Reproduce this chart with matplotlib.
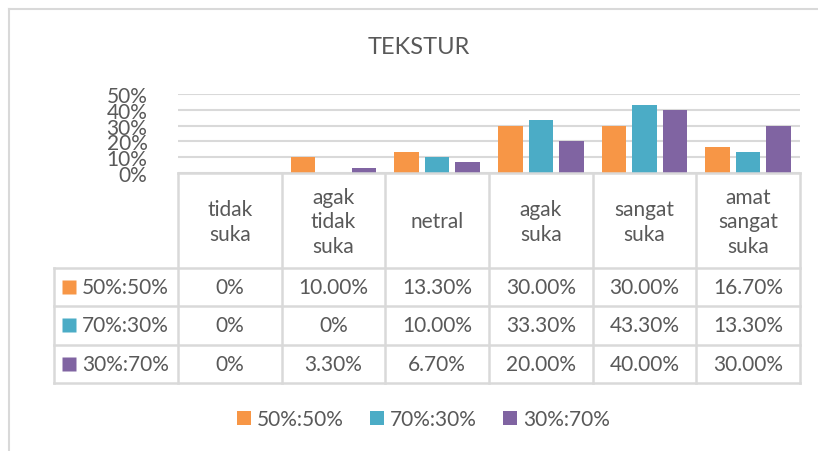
import matplotlib
matplotlib.use("Agg")
import matplotlib.pyplot as plt
from matplotlib.lines import Line2D

categories = ["tidak\nsuka", "agak\ntidak\nsuka", "netral", "agak\nsuka", "sangat\nsuka", "amat\nsangat\nsuka"]
series_names = ["50%:50%", "70%:30%", "30%:70%"]
s1 = [0, 10.0, 13.3, 30.0, 30.0, 16.7]
s2 = [0, 0, 10.0, 33.3, 43.3, 13.3]
s3 = [0, 3.3, 6.7, 20.0, 40.0, 30.0]
table_text = [
    ["0%", "10.00%", "13.30%", "30.00%", "30.00%", "16.70%"],
    ["0%", "0%", "10.00%", "33.30%", "43.30%", "13.30%"],
    ["0%", "3.30%", "6.70%", "20.00%", "40.00%", "30.00%"],
]
yticks = [0, 10, 20, 30, 40, 50]
colors = ["#F79646", "#4BACC6", "#8064A2"]
title = "TEKSTUR"

TXT = "#595959"
GRID = "#D9D9D9"
W, H = 818, 452
plt.rcParams['font.family'] = ['Lato', 'DejaVu Sans']

fig = plt.figure(figsize=(W / 100, H / 100), dpi=100)

def fx(px):
    return px / W

def fy(py):
    return 1 - py / H

# outer border (top and left only visible)
fig.add_artist(Line2D([fx(8.5), fx(W + 5)], [fy(10), fy(10)], color=GRID, lw=1.5))
fig.add_artist(Line2D([fx(8.5), fx(8.5)], [fy(10), fy(H + 5)], color=GRID, lw=1.5))

# main axes
x0, x1 = 178, 800
ytop, ybot = 95, 174
ax = fig.add_axes([fx(x0), fy(ybot), fx(x1 - x0), (ybot - ytop) / H])
n = len(categories)
xs = list(range(n))
bw = 0.236
step = 0.294
data = [s1, s2, s3]
handles = []
for i, (vals, c) in enumerate(zip(data, colors)):
    b = ax.bar([x + (i - 1) * step for x in xs], [v / 100 for v in vals], width=bw, color=c, zorder=3)
    handles.append(b)
ax.set_xlim(-0.5, n - 0.5)
ax.set_ylim(0, 0.5)
ax.set_yticks([t / 100 for t in yticks])
ax.set_yticklabels([f"{t}%" for t in yticks], fontsize=15, color=TXT)
ax.tick_params(axis='y', length=0, pad=22)
ax.set_xticks([])
for sp in ax.spines.values():
    sp.set_visible(False)
ax.grid(axis='y', color=GRID, lw=1.5, zorder=0)
ax.set_axisbelow(True)

fig.text(fx(419), fy(47), title, ha='center', va='center', fontsize=17, color=TXT)

# table axes
ty0, ty1 = 174, 384
tax = fig.add_axes([fx(x0), fy(ty1), fx(x1 - x0), (ty1 - ty0) / H])
tax.set_xlim(-0.5, n - 0.5)
tax.set_ylim(ty1, ty0)
tax.axis('off')
colw = (x1 - x0) / n
xl = -0.5 + (54 - x0) / colw
rows_y = [174, 269, 307, 345.5, 384]
lkw = dict(color=GRID, lw=1.8, clip_on=False, solid_capstyle='projecting')
tax.plot([-0.5, n - 0.5], [rows_y[0]] * 2, **lkw)
for yy in rows_y[1:]:
    tax.plot([xl, n - 0.5], [yy] * 2, **lkw)
for k in range(n + 1):
    tax.plot([k - 0.5] * 2, [rows_y[0], rows_y[-1]], **lkw)
tax.plot([xl, xl], [rows_y[1], rows_y[-1]], **lkw)

for k, cat in enumerate(categories):
    tax.text(k, (rows_y[0] + rows_y[1]) / 2 + 1, cat, ha='center', va='center',
             fontsize=15, color=TXT, linespacing=1.3)
for r in range(3):
    yc = (rows_y[r + 1] + rows_y[r + 2]) / 2
    for k in range(n):
        tax.text(k, yc, table_text[r][k], ha='center', va='center', fontsize=15, color=TXT)
    xsq = -0.5 + (69 - x0) / colw
    tax.plot([xsq], [yc], marker='s', ms=10, color=colors[r], mec='none', clip_on=False)
    tax.text(-0.5 + (82 - x0) / colw, yc, series_names[r], ha='left', va='center', fontsize=15, color=TXT)

leg = fig.legend(handles, series_names, loc='center', bbox_to_anchor=(fx(423.5), fy(420)),
                 ncol=3, frameon=False, fontsize=15, handlelength=0.68, handleheight=0.68,
                 handletextpad=0.3, columnspacing=1.25, borderaxespad=0, borderpad=0)
for t in leg.get_texts():
    t.set_color(TXT)

fig.savefig("out.png", dpi=100, facecolor='white')
